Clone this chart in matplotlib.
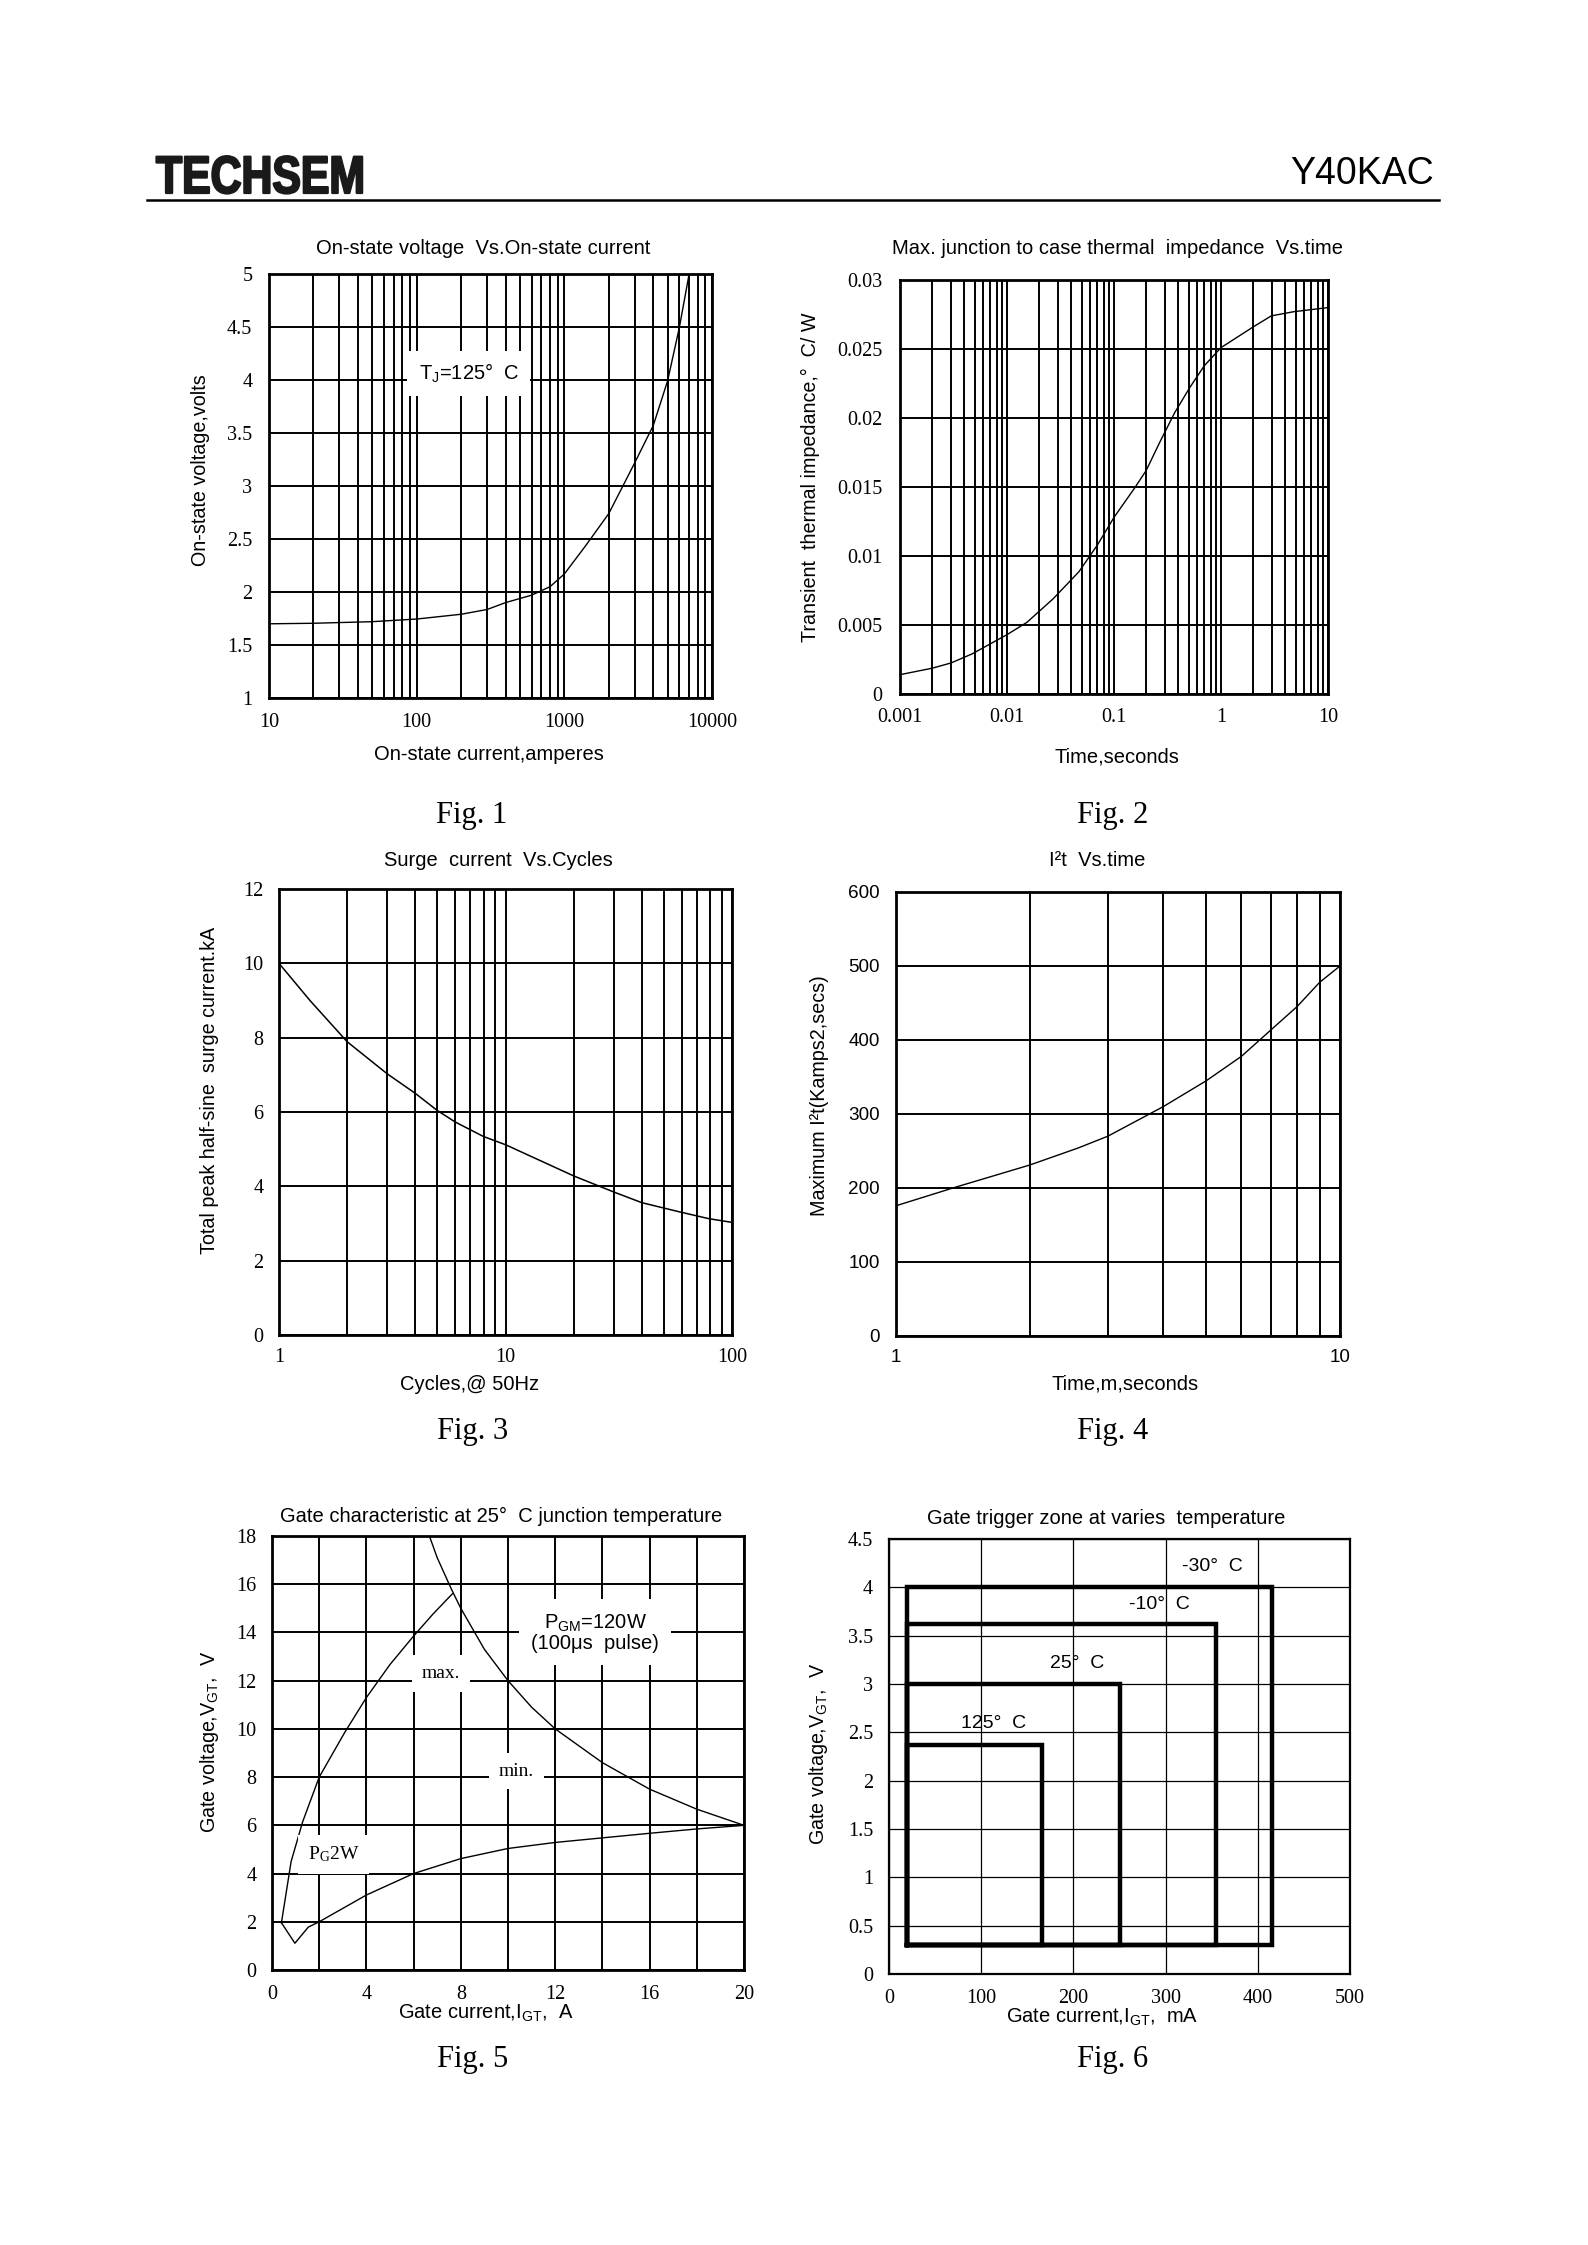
import numpy as np
import matplotlib
matplotlib.use('Agg')
import matplotlib.pyplot as plt
from matplotlib.lines import Line2D
from matplotlib.patheffects import AbstractPathEffect
from matplotlib.transforms import Affine2D
from matplotlib.ticker import LogLocator, NullFormatter, MultipleLocator

W, H = 1588, 2245

plt.rcParams['font.family'] = ['Liberation Sans', 'DejaVu Sans']
plt.rcParams['mathtext.default'] = 'regular'

SERIF = ['Liberation Serif', 'DejaVu Serif']

# Fig.1 on-state voltage vs on-state current (TJ=125 C)
f1_current = [10, 20, 50, 100, 200, 300, 400, 600, 800, 1000, 1400, 2000, 3000, 4000, 5000, 6000, 7000]
f1_voltage = [1.70, 1.705, 1.72, 1.745, 1.79, 1.835, 1.90, 1.97, 2.05, 2.17, 2.44, 2.74, 3.22, 3.57, 3.99, 4.49, 5.0]

# Fig.2 transient thermal impedance vs time
f2_time = [0.001, 0.002, 0.003, 0.0047, 0.01, 0.0154, 0.027, 0.047, 0.07, 0.1, 0.155, 0.2,
           0.27, 0.37, 0.51, 0.7, 1.0, 2.0, 2.95, 4.76, 10]
f2_zth = [0.0014, 0.00187, 0.00225, 0.0029, 0.0043, 0.0052, 0.0069, 0.00886, 0.0108, 0.0128, 0.0149, 0.0162,
          0.0183, 0.0204, 0.0222, 0.0238, 0.0251, 0.0266, 0.0274, 0.0277, 0.0280]

# Fig.3 surge current vs cycles
f3_cycles = [1, 1.37, 2, 3, 4, 5, 6, 8, 10, 20, 30, 40, 58, 79, 100]
f3_surge = [10.0, 9.0, 7.89, 7.03, 6.5, 6.04, 5.73, 5.34, 5.12, 4.28, 3.85, 3.56, 3.32, 3.13, 3.03]

# Fig.4 I2t vs time
f4_time = [1, 1.36, 2, 2.57, 3, 4, 5, 6, 7, 8, 9, 10]
f4_i2t = [176, 201, 231, 254, 270, 310, 345, 378, 414, 445, 478, 500]

# Fig.5 gate characteristic
f5_max_i = [0.4, 0.81, 1.3, 2.0, 3.08, 4.0, 5.0, 6.0, 6.8, 7.64]
f5_max_v = [1.96, 4.5, 6.15, 8.0, 9.85, 11.3, 12.67, 13.85, 14.74, 15.6]
f5_pgm_i = [6.67, 7.0, 7.6, 8, 9, 10, 11, 12, 14, 16, 18, 20]
f5_pgm_v = [18, 17.1, 15.8, 15, 13.3, 12, 10.9, 10, 8.6, 7.5, 6.67, 6.0]
f5_min_i = [0.4, 0.97, 1.54, 2.0, 4, 6, 8, 10, 12, 14, 16, 18, 20]
f5_min_v = [1.96, 1.11, 1.78, 2.0, 3.11, 4.0, 4.62, 5.04, 5.29, 5.48, 5.67, 5.85, 6.0]

# Fig.6 gate trigger zones
f6_labels = ['-30°  C', '-10°  C', '25°  C', '125°  C']
f6_igt_min = 20
f6_vgt_min = 0.3
f6_igt_max = [415, 355, 250, 166]
f6_vgt_max = [4.0, 3.62, 3.0, 2.37]
f6_label_x = [351, 293, 204, 113]
f6_label_y = [4.22, 3.82, 3.21, 2.59]

fig = plt.figure(figsize=(W / 100, H / 100), dpi=100)

TS = 14.5   # titles / axis labels
TK = 14.5   # serif tick labels


class Narrow(AbstractPathEffect):
    # squeeze glyphs horizontally and thicken them a little (logo look)
    def __init__(self, sx=1.0, sy=1.0, stroke=0.0):
        super().__init__()
        self.sx, self.sy, self.stroke = sx, sy, stroke

    def draw_path(self, renderer, gc, tpath, affine, rgbFace=None):
        tr = Affine2D().scale(self.sx, self.sy) + affine
        gc0 = renderer.new_gc()
        gc0.copy_properties(gc)
        if self.stroke:
            gc0.set_linewidth(self.stroke)
            gc0.set_foreground(rgbFace)
        renderer.draw_path(gc0, tpath, tr, rgbFace)
        gc0.restore()


def add_ax(x0, y0, x1, y1):
    return fig.add_axes([x0 / W, 1 - y1 / H, (x1 - x0) / W, (y1 - y0) / H])


def ftext(x, y, s, **kw):
    kw.setdefault('ha', 'center')
    kw.setdefault('va', 'center')
    kw.setdefault('fontsize', TS)
    return fig.text(x / W, 1 - y / H, s, **kw)


def style(ax, grid_lw=1.4, frame_lw=2.0, serif=True, tsize=TK, xpad=10.5, ypad=11.5):
    ax.grid(True, which='both', color='black', lw=grid_lw)
    for sp in ax.spines.values():
        sp.set_linewidth(frame_lw)
    ax.tick_params(which='both', length=0, labelsize=tsize)
    ax.tick_params(axis='x', pad=xpad)
    ax.tick_params(axis='y', pad=ypad)
    fam = SERIF if serif else ['Liberation Sans']
    for lab in ax.get_xticklabels() + ax.get_yticklabels():
        lab.set_fontfamily(fam)


def log_x(ax, lo, hi):
    ax.set_xscale('log')
    ax.set_xlim(lo, hi)
    ax.xaxis.set_major_locator(LogLocator(base=10, numticks=10))
    ax.xaxis.set_minor_locator(LogLocator(base=10, subs=range(2, 10), numticks=20))
    ax.xaxis.set_minor_formatter(NullFormatter())


# header
ftext(156, 193, 'TECHSEM', ha='left', va='baseline', fontsize=38, fontweight='bold',
      family='Liberation Sans', color='#1a1a1a',
      path_effects=[Narrow(sx=0.81, sy=1.0, stroke=1.6)])
ftext(1434, 174, 'Y40KAC', ha='right', fontsize=27)
fig.add_artist(Line2D([147 / W, 1439 / W], [1 - 200 / H, 1 - 200 / H], color='black', lw=1.8))

# ---- Fig.1
ax1 = add_ax(269, 274, 712, 698)
ax1.plot(f1_current, f1_voltage, color='black', lw=1.0)
log_x(ax1, 10, 10000)
ax1.set_xticks([10, 100, 1000, 10000], ['10', '100', '1000', '10000'])
ax1.set_ylim(1, 5)
ax1.set_yticks(np.arange(1, 5.01, 0.5), ['1', '1.5', '2', '2.5', '3', '3.5', '4', '4.5', '5'])
style(ax1, ypad=12)
ax1.text(225, 4.06, 'T$_{J}$=125°  C', ha='center', va='center', fontsize=TS,
         bbox=dict(boxstyle='square,pad=0.55', fc='white', ec='none'))
ftext(483, 249, 'On-state voltage  Vs.On-state current')
ftext(200, 470, 'On-state voltage,volts', rotation=90, fontsize=14.2)
ftext(489, 755, 'On-state current,amperes')
ftext(472, 815, 'Fig. 1', fontsize=22, family=SERIF)

# ---- Fig.2
ax2 = add_ax(900, 280, 1328, 694)
ax2.plot(f2_time, f2_zth, color='black', lw=1.0)
log_x(ax2, 0.001, 10)
ax2.set_xticks([0.001, 0.01, 0.1, 1, 10], ['0.001', '0.01', '0.1', '1', '10'])
ax2.set_ylim(0, 0.03)
ax2.set_yticks(np.arange(0, 0.0301, 0.005), ['0', '0.005', '0.01', '0.015', '0.02', '0.025', '0.03'])
style(ax2, ypad=12.5, xpad=10)
ftext(1117, 249, 'Max. junction to case thermal  impedance  Vs.time')
ftext(810, 477, 'Transient  thermal impedance,°  C/ W', rotation=90, fontsize=14.2)
ftext(1117, 757, 'Time,seconds')
ftext(1113, 815, 'Fig. 2', fontsize=22, family=SERIF)

# ---- Fig.3
ax3 = add_ax(279, 889, 732, 1335)
ax3.plot(f3_cycles, f3_surge, color='black', lw=1.1)
log_x(ax3, 1, 100)
ax3.set_xticks([1, 10, 100], ['1', '10', '100'])
ax3.set_ylim(0, 12)
ax3.yaxis.set_major_locator(MultipleLocator(2))
style(ax3, xpad=9.5, ypad=11)
ftext(498, 860, 'Surge  current  Vs.Cycles')
ftext(209, 1090, 'Total peak half-sine  surge current.kA', rotation=90, fontsize=14.2)
ftext(470, 1384, 'Cycles,@ 50Hz')
ftext(473, 1432, 'Fig. 3', fontsize=22, family=SERIF)

# ---- Fig.4
ax4 = add_ax(896, 892, 1340, 1336)
ax4.plot(f4_time, f4_i2t, color='black', lw=1.0)
log_x(ax4, 1, 10)
ax4.set_xticks([1, 10], ['1', '10'])
ax4.set_ylim(0, 600)
ax4.yaxis.set_major_locator(MultipleLocator(100))
style(ax4, serif=False, tsize=13.6, xpad=9.5, ypad=11.5)
ftext(1097, 861, 'I²t  Vs.time')
ftext(820, 1096, 'Maximum I²t(Kamps2,secs)', rotation=90, fontsize=14.2)
ftext(1125, 1384, 'Time,m,seconds')
ftext(1113, 1432, 'Fig. 4', fontsize=22, family=SERIF)

# ---- Fig.5
ax5 = add_ax(272, 1536, 744, 1970)
ax5.plot(f5_max_i, f5_max_v, color='black', lw=1.0)
ax5.plot(f5_pgm_i, f5_pgm_v, color='black', lw=1.0)
ax5.plot(f5_min_i, f5_min_v, color='black', lw=1.0)
ax5.set_xlim(0, 20)
ax5.set_ylim(0, 18)
ax5.set_xticks([0, 4, 8, 12, 16, 20])
ax5.xaxis.set_minor_locator(MultipleLocator(2))
ax5.yaxis.set_major_locator(MultipleLocator(2))
style(ax5, ypad=11, xpad=10.5)
box = dict(boxstyle='square,pad=0.5', fc='white', ec='none')
ax5.text(7.17, 12.3, 'max.', ha='center', va='center', fontsize=14, family=SERIF, bbox=box)
ax5.text(10.36, 8.25, 'min.', ha='center', va='center', fontsize=14, family=SERIF, bbox=box)
ax5.text(2.6, 4.8, 'P$_{G}$2W', ha='center', va='center', fontsize=14, family=SERIF, bbox=box)
ax5.text(13.7, 14.0, 'P$_{GM}$=120W\n(100μs  pulse)', ha='center', va='center', fontsize=TS,
         linespacing=1.0, bbox=dict(boxstyle='square,pad=0.6', fc='white', ec='none'))
ftext(501, 1516, 'Gate characteristic at 25°  C junction temperature')
ftext(209, 1742, 'Gate voltage,V$_{GT}$,  V', rotation=90, fontsize=14.2)
ftext(486, 2013, 'Gate current,I$_{GT}$,  A')
ftext(473, 2059, 'Fig. 5', fontsize=22, family=SERIF)

# ---- Fig.6
ax6 = add_ax(889, 1539, 1350, 1974)
for lab, imax, vmax, lx, ly in zip(f6_labels, f6_igt_max, f6_vgt_max, f6_label_x, f6_label_y):
    ax6.plot([f6_igt_min, imax, imax, f6_igt_min, f6_igt_min],
             [f6_vgt_min, f6_vgt_min, vmax, vmax, f6_vgt_min],
             color='black', lw=3.2, solid_joinstyle='miter')
    ax6.text(lx, ly, lab, ha='center', va='center', fontsize=14)
ax6.set_xlim(0, 500)
ax6.set_ylim(0, 4.5)
ax6.xaxis.set_major_locator(MultipleLocator(100))
ax6.set_yticks(np.arange(0, 4.51, 0.5), ['0', '0.5', '1', '1.5', '2', '2.5', '3', '3.5', '4', '4.5'])
style(ax6, grid_lw=0.9, frame_lw=1.6, ypad=11.5, xpad=10.5)
ftext(1106, 1518, 'Gate trigger zone at varies  temperature')
ftext(819, 1754, 'Gate voltage,V$_{GT}$,  V', rotation=90, fontsize=14.2)
ftext(1102, 2017, 'Gate current,I$_{GT}$,  mA')
ftext(1113, 2059, 'Fig. 6', fontsize=22, family=SERIF)

fig.savefig('out.png', dpi=100)
